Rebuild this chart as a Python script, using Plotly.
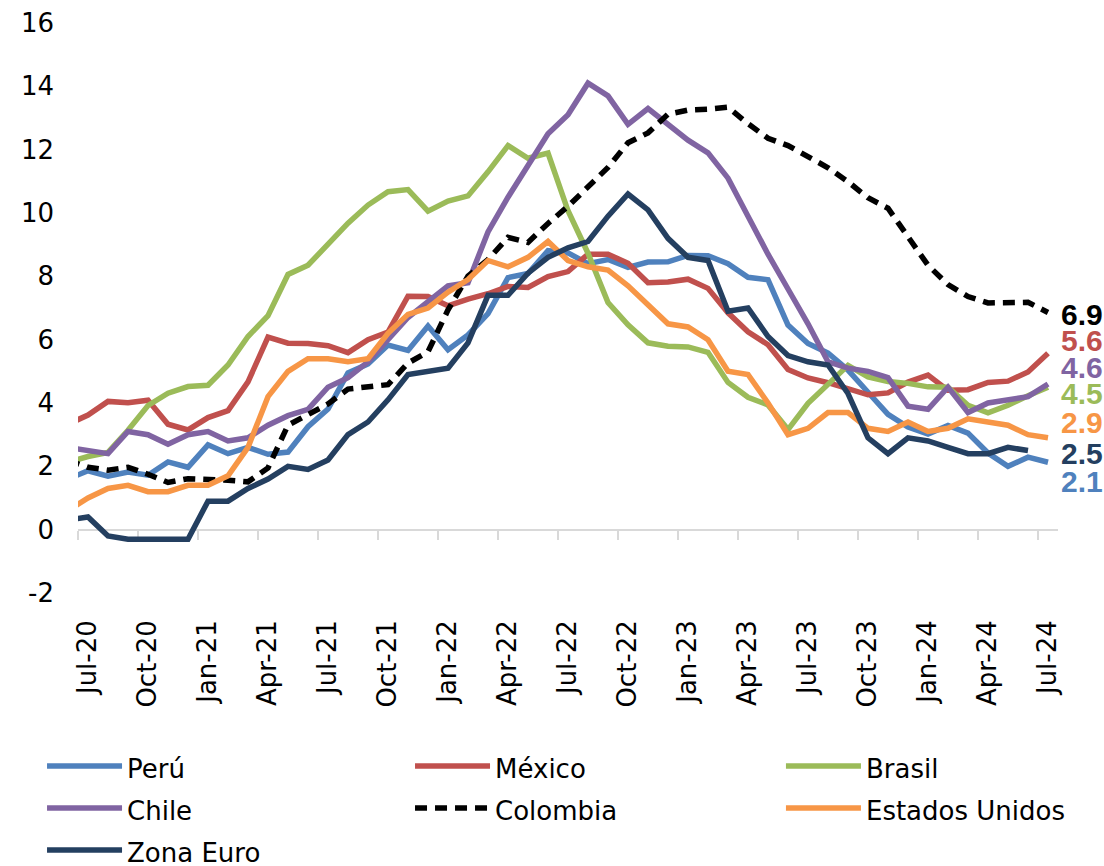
import plotly.graph_objects as go

# Months Jun-20 .. Jul-24 (Jun-20 lies just left of the visible range)
months = ["Jun-20", "Jul-20", "Aug-20", "Sep-20", "Oct-20", "Nov-20", "Dec-20",
          "Jan-21", "Feb-21", "Mar-21", "Apr-21", "May-21", "Jun-21", "Jul-21", "Aug-21", "Sep-21", "Oct-21", "Nov-21", "Dec-21",
          "Jan-22", "Feb-22", "Mar-22", "Apr-22", "May-22", "Jun-22", "Jul-22", "Aug-22", "Sep-22", "Oct-22", "Nov-22", "Dec-22",
          "Jan-23", "Feb-23", "Mar-23", "Apr-23", "May-23", "Jun-23", "Jul-23", "Aug-23", "Sep-23", "Oct-23", "Nov-23", "Dec-23",
          "Jan-24", "Feb-24", "Mar-24", "Apr-24", "May-24", "Jun-24", "Jul-24"]
tick_labels = ["Jul-20", "Oct-20", "Jan-21", "Apr-21", "Jul-21", "Oct-21", "Jan-22", "Apr-22", "Jul-22",
               "Oct-22", "Jan-23", "Apr-23", "Jul-23", "Oct-23", "Jan-24", "Apr-24", "Jul-24"]
y_ticks = [-2, 0, 2, 4, 6, 8, 10, 12, 14, 16]

peru = [1.60, 1.86, 1.69, 1.82, 1.72, 2.14, 1.97,
        2.68, 2.40, 2.60, 2.38, 2.45, 3.25, 3.81, 4.95, 5.23, 5.83, 5.66, 6.43,
        5.68, 6.15, 6.82, 7.96, 8.09, 8.81, 8.74, 8.40, 8.53, 8.28, 8.45, 8.46,
        8.66, 8.65, 8.40, 7.97, 7.89, 6.46, 5.88, 5.58, 5.04, 4.34, 3.64, 3.24,
        3.02, 3.29, 3.05, 2.42, 2.00, 2.29, 2.13]
mexico = [3.33, 3.62, 4.05, 4.01, 4.09, 3.33, 3.15,
          3.54, 3.76, 4.67, 6.08, 5.89, 5.88, 5.81, 5.59, 6.00, 6.24, 7.37, 7.36,
          7.07, 7.28, 7.45, 7.68, 7.65, 7.99, 8.15, 8.70, 8.70, 8.41, 7.80, 7.82,
          7.91, 7.62, 6.85, 6.25, 5.84, 5.06, 4.79, 4.64, 4.45, 4.26, 4.32, 4.66,
          4.88, 4.40, 4.42, 4.65, 4.69, 4.98, 5.57]
brasil = [2.13, 2.31, 2.44, 3.14, 3.92, 4.31, 4.52,
          4.56, 5.20, 6.10, 6.76, 8.06, 8.35, 8.99, 9.68, 10.25, 10.67, 10.74, 10.06,
          10.38, 10.54, 11.30, 12.13, 11.73, 11.89, 10.07, 8.73, 7.17, 6.47, 5.90, 5.79,
          5.77, 5.60, 4.65, 4.18, 3.94, 3.16, 3.99, 4.61, 5.19, 4.82, 4.68, 4.62,
          4.51, 4.50, 3.93, 3.69, 3.93, 4.23, 4.50]
chile = [2.6, 2.5, 2.4, 3.1, 3.0, 2.7, 3.0,
         3.1, 2.8, 2.9, 3.3, 3.6, 3.8, 4.5, 4.8, 5.3, 6.0, 6.7, 7.2,
         7.7, 7.8, 9.4, 10.5, 11.5, 12.5, 13.1, 14.1, 13.7, 12.8, 13.3, 12.8,
         12.3, 11.9, 11.1, 9.9, 8.7, 7.6, 6.5, 5.3, 5.1, 5.0, 4.8, 3.9,
         3.8, 4.5, 3.7, 4.0, 4.1, 4.2, 4.6]
colombia = [2.19, 1.97, 1.88, 1.97, 1.75, 1.49, 1.61,
            1.60, 1.56, 1.51, 1.95, 3.30, 3.63, 3.97, 4.44, 4.51, 4.58, 5.26, 5.62,
            6.94, 8.01, 8.53, 9.23, 9.07, 9.67, 10.21, 10.84, 11.44, 12.22, 12.53, 13.12,
            13.25, 13.28, 13.34, 12.82, 12.36, 12.13, 11.78, 11.43, 10.99, 10.48, 10.15, 9.28,
            8.35, 7.74, 7.36, 7.16, 7.16, 7.18, 6.86]
eeuu = [0.6, 1.0, 1.3, 1.4, 1.2, 1.2, 1.4,
        1.4, 1.7, 2.6, 4.2, 5.0, 5.4, 5.4, 5.3, 5.4, 6.2, 6.8, 7.0,
        7.5, 7.9, 8.5, 8.3, 8.6, 9.1, 8.5, 8.3, 8.2, 7.7, 7.1, 6.5,
        6.4, 6.0, 5.0, 4.9, 4.0, 3.0, 3.2, 3.7, 3.7, 3.2, 3.1, 3.4,
        3.1, 3.2, 3.5, 3.4, 3.3, 3.0, 2.9]
zona_euro = [0.3, 0.4, -0.2, -0.3, -0.3, -0.3, -0.3,
             0.9, 0.9, 1.3, 1.6, 2.0, 1.9, 2.2, 3.0, 3.4, 4.1, 4.9, 5.0,
             5.1, 5.9, 7.4, 7.4, 8.1, 8.6, 8.9, 9.1, 9.9, 10.6, 10.1, 9.2,
             8.6, 8.5, 6.9, 7.0, 6.1, 5.5, 5.3, 5.2, 4.3, 2.9, 2.4, 2.9,
             2.8, 2.6, 2.4, 2.4, 2.6, 2.5]

series_names = ["Perú", "México", "Brasil", "Chile", "Colombia", "Estados Unidos", "Zona Euro"]
series_values = [peru, mexico, brasil, chile, colombia, eeuu, zona_euro]
colors = ["#4F81BD", "#C0504D", "#9BBB59", "#8064A2", "#000000", "#F79646", "#243F60"]
label_yshift = [-19, 13, -6, 17, -2, 15, -3]

legend_ids = ["legend", "legend2", "legend3"]
legend_x = [-0.0367, 0.3388, 0.7173]

first_idx = -1  # Jun-20 sits half a month left of the plot edge
fig = go.Figure()
for k, (name, vals, col) in enumerate(zip(series_names, series_values, colors)):
    xs = [first_idx + j for j in range(len(vals))]
    fig.add_trace(go.Scatter(
        x=xs, y=vals, mode="lines",
        name=f'<span style="font-size:26px">{name}</span>',
        legend=legend_ids[k % 3],
        line=dict(color=col, width=5.5, dash="12px,8px" if name == "Colombia" else "solid"),
        hoverinfo="skip",
    ))

last_x = len(months) - 1 + first_idx
for vals, col, ys in zip(series_values, colors, label_yshift):
    fig.add_annotation(
        x=last_x, y=vals[-1], xref="x", yref="y",
        text=f"<b>{vals[-1]:.1f}</b>", showarrow=False,
        xanchor="left", yanchor="middle", xshift=11, yshift=ys,
        font=dict(family="Liberation Sans", size=30, color=col),
    )

tick_pos = [months.index(t) + first_idx for t in tick_labels]
ymin, ymax = y_ticks[0], y_ticks[-1]
xrange = [-0.5, last_x + 0.5]

legend_common = dict(
    orientation="v", y=-0.258, xanchor="left", yanchor="top",
    itemwidth=75, font=dict(size=30), traceorder="normal", bgcolor="rgba(0,0,0,0)",
)

fig.update_layout(
    width=1104, height=866,
    margin=dict(l=78, r=46, t=23, b=273, autoexpand=False),
    paper_bgcolor="white", plot_bgcolor="white",
    font=dict(family="DejaVu Sans", size=26, color="#000000"),
    showlegend=True,
    legend=dict(x=legend_x[0], **legend_common),
    legend2=dict(x=legend_x[1], **legend_common),
    legend3=dict(x=legend_x[2], **legend_common),
    xaxis=dict(
        range=xrange, tickvals=tick_pos, ticktext=tick_labels, tickangle=-90,
        showline=False, showgrid=False, zeroline=False, ticks="",
        ticklabelstandoff=21, tickfont=dict(size=26),
    ),
    xaxis2=dict(
        range=xrange, overlaying="x", anchor="free",
        position=(0 - ymin) / (ymax - ymin),
        tickvals=[p - 0.5 for p in tick_pos],
        showticklabels=False, ticks="outside", ticklen=9, tickwidth=2, tickcolor="#D9D9D9",
        showline=True, linecolor="#D9D9D9", linewidth=2,
        showgrid=False, zeroline=False, layer="below traces",
    ),
    yaxis=dict(
        range=[ymin, ymax], tickvals=y_ticks, ticktext=[str(v) for v in y_ticks],
        showgrid=False, zeroline=False,
        showline=False, ticks="", ticklabelstandoff=23, tickfont=dict(size=26),
    ),
)
fig.add_trace(go.Scatter(x=xrange, y=[None, None], xaxis="x2", showlegend=False, hoverinfo="skip"))

fig.write_html("out.html", config={"displayModeBar": False},
               post_script="document.body.style.margin='0';document.body.style.overflow='hidden';")
